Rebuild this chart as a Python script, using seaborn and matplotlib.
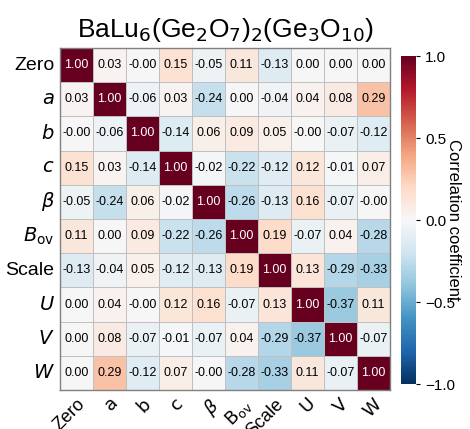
import numpy as np
import pandas as pd
import matplotlib
matplotlib.use("Agg")
import matplotlib.pyplot as plt
import seaborn as sns

params = ["Zero", "a", "b", "c", "beta", "Bov", "Scale", "U", "V", "W"]
y_labels = ["Zero", r"$a$", r"$b$", r"$c$", r"$\beta$", r"$B_{\rm ov}$", "Scale", r"$U$", r"$V$", r"$W$"]
x_labels = ["Zero", r"$\rm a$", r"$\rm b$", r"$\rm c$", r"$\beta$", r"$\rm B_{ov}$", "Scale", r"$\rm U$", r"$\rm V$", r"$\rm W$"]

row_zero  = [1.00, 0.03, -0.00, 0.15, -0.05, 0.11, -0.13, 0.00, 0.00, 0.00]
row_a     = [0.03, 1.00, -0.06, 0.03, -0.24, 0.00, -0.04, 0.04, 0.08, 0.29]
row_b     = [-0.00, -0.06, 1.00, -0.14, 0.06, 0.09, 0.05, -0.00, -0.07, -0.12]
row_c     = [0.15, 0.03, -0.14, 1.00, -0.02, -0.22, -0.12, 0.12, -0.01, 0.07]
row_beta  = [-0.05, -0.24, 0.06, -0.02, 1.00, -0.26, -0.13, 0.16, -0.07, -0.00]
row_bov   = [0.11, 0.00, 0.09, -0.22, -0.26, 1.00, 0.19, -0.07, 0.04, -0.28]
row_scale = [-0.13, -0.04, 0.05, -0.12, -0.13, 0.19, 1.00, 0.13, -0.29, -0.33]
row_u     = [0.00, 0.04, -0.00, 0.12, 0.16, -0.07, 0.13, 1.00, -0.37, 0.11]
row_v     = [0.00, 0.08, -0.07, -0.01, -0.07, 0.04, -0.29, -0.37, 1.00, -0.07]
row_w     = [0.00, 0.29, -0.12, 0.07, -0.00, -0.28, -0.33, 0.11, -0.07, 1.00]

rows = [row_zero, row_a, row_b, row_c, row_beta, row_bov, row_scale, row_u, row_v, row_w]
df = pd.DataFrame(rows, index=params, columns=params)

plt.rcParams['font.family'] = ['Liberation Sans', 'DejaVu Sans']

fig = plt.figure(figsize=(4.70, 4.29), dpi=100)
ax = fig.add_axes([60/470, 1 - 390/429, 330/470, 342/429])
cax = fig.add_axes([401/470, 1 - 384/429, 15/470, 328/429])

sns.heatmap(df, ax=ax, cbar_ax=cax, cmap="RdBu_r", vmin=-1, vmax=1,
            annot=True, fmt=".2f", annot_kws={"size": 9, "color": "black"},
            linewidths=0.5, linecolor="#c0c0c0",
            cbar_kws={"ticks": [-1.0, -0.5, 0.0, 0.5, 1.0]})

for t in ax.texts:
    if t.get_text() == "1.00":
        t.set_color("white")

ax.set_xticklabels(x_labels, rotation=45, ha="right", rotation_mode="anchor", fontsize=13)
ax.set_yticklabels(y_labels, rotation=0, fontsize=14)
ax.tick_params(axis="both", length=0, pad=4)
ax.set_xlabel("")
ax.set_ylabel("")
for s in ax.spines.values():
    s.set_visible(True)
    s.set_color("#808080")
    s.set_linewidth(1)

ax.set_title(r"BaLu$_6$(Ge$_2$O$_7$)$_2$(Ge$_3$O$_{10}$)", fontsize=19, pad=8)

cax.tick_params(labelsize=11, length=3)
cax.set_yticklabels(["\u22121.0", "\u22120.5", "0.0", "0.5", "1.0"])
cax.set_ylabel("Correlation coefficient", rotation=270, labelpad=4, fontsize=12, va="top")

fig.savefig("out.png", dpi=100)
